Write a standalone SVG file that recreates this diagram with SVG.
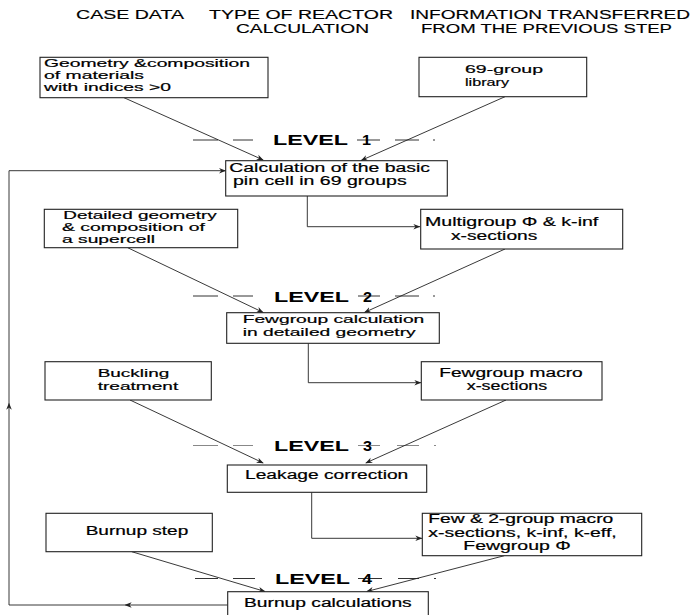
<svg xmlns="http://www.w3.org/2000/svg" width="691" height="615" viewBox="0 0 691 615">
<defs>
<style>
.box{fill:#fff;stroke:#222;stroke-width:1.1}
.t{font-family:"Liberation Sans",Arial,sans-serif;font-size:12px;fill:#000;stroke:#000;stroke-width:0.2}
.ts{font-family:"Liberation Sans",Arial,sans-serif;font-size:11.3px;fill:#000;stroke:#000;stroke-width:0.2}
.h{font-family:"Liberation Sans",Arial,sans-serif;font-size:12.5px;fill:#000;stroke:#000;stroke-width:0.15}
.lv{font-family:"Liberation Sans",Arial,sans-serif;font-size:14px;font-weight:bold;fill:#000}
.c{fill:none;stroke:#222;stroke-width:0.9}
.d{fill:none;stroke:#333;stroke-width:1}
.d3{fill:none;stroke:#888;stroke-width:1}
</style>
<marker id="ah" viewBox="0 0 10 10" refX="9.5" refY="5" markerWidth="7" markerHeight="7" markerUnits="userSpaceOnUse" orient="auto">
<path d="M0,1 L10,5 L0,9 L3,5 Z" fill="#222"/>
</marker>
</defs>
<rect width="691" height="615" fill="#fff"/>

<g id="headers">
<text class="h" x="76" y="19" textLength="108" lengthAdjust="spacingAndGlyphs">CASE DATA</text>
<text class="h" x="209" y="19" textLength="184" lengthAdjust="spacingAndGlyphs">TYPE OF REACTOR</text>
<text class="h" x="236" y="33" textLength="133" lengthAdjust="spacingAndGlyphs">CALCULATION</text>
<text class="h" x="410" y="19" textLength="280" lengthAdjust="spacingAndGlyphs">INFORMATION TRANSFERRED</text>
<text class="h" x="421" y="33" textLength="251" lengthAdjust="spacingAndGlyphs">FROM THE PREVIOUS STEP</text>
</g>

<g id="levels">
<g id="level1">
<path class="d" d="M193,140 H218 M233,140 H253 M357,140 H380 M395,140 H419 M433,140 H435"/>
<text class="lv" x="273" y="145" textLength="75" lengthAdjust="spacingAndGlyphs">LEVEL</text>
<text class="lv" x="362" y="145" textLength="9" lengthAdjust="spacingAndGlyphs">1</text>
</g>
<g id="level2">
<path class="d" d="M193,296 H218 M233,296 H253 M358,296 H380 M395,296 H419 M433,296 H435"/>
<text class="lv" x="274" y="301.5" textLength="75" lengthAdjust="spacingAndGlyphs">LEVEL</text>
<text class="lv" x="363" y="301.5" textLength="9" lengthAdjust="spacingAndGlyphs">2</text>
</g>
<g id="level3">
<path class="d3" d="M193,445.5 H218 M233,445.5 H253 M358,445.5 H380 M397,445.5 H419 M434,445.5 H436"/>
<text class="lv" x="274" y="451" textLength="75" lengthAdjust="spacingAndGlyphs">LEVEL</text>
<text class="lv" x="363" y="451" textLength="9" lengthAdjust="spacingAndGlyphs">3</text>
</g>
<g id="level4">
<path class="d" d="M195,578.5 H218 M233,578.5 H255 M358,578.5 H382 M398,578.5 H419 M434,578.5 H436"/>
<text class="lv" x="275" y="584" textLength="75" lengthAdjust="spacingAndGlyphs">LEVEL</text>
<text class="lv" x="362" y="584" textLength="10" lengthAdjust="spacingAndGlyphs">4</text>
</g>
</g>

<g id="connectors">
<path class="c" d="M124,97.7 L263.3,160" marker-end="url(#ah)"/>
<path class="c" d="M505,96.7 L361,160.5" marker-end="url(#ah)"/>
<path class="c" d="M307.3,196 V226.7 H420" marker-end="url(#ah)"/>
<path class="c" d="M127.7,247.7 L263.3,312.5" marker-end="url(#ah)"/>
<path class="c" d="M505,249 L364.3,312.5" marker-end="url(#ah)"/>
<path class="c" d="M308.3,343.3 V382.7 H421" marker-end="url(#ah)"/>
<path class="c" d="M130,400 L263.3,463" marker-end="url(#ah)"/>
<path class="c" d="M506,400 L365.7,463" marker-end="url(#ah)"/>
<path class="c" d="M311.7,492.3 V538.3 H422" marker-end="url(#ah)"/>
<path class="c" d="M131.7,551.7 L265,591.5" marker-end="url(#ah)"/>
<path class="c" d="M504.3,555.7 L366.7,591.5" marker-end="url(#ah)"/>
<path class="c" d="M227.7,605 H125" marker-end="url(#ah)"/>
<path class="c" d="M125,605 H9 V403" marker-end="url(#ah)"/>
<path class="c" d="M9,403 V170.7 H225.7" marker-end="url(#ah)"/>
</g>

<g id="n-geometry">
<rect class="box" x="40" y="57.3" width="228" height="40.4"/>
<text class="ts" x="44" y="67" textLength="206" lengthAdjust="spacingAndGlyphs">Geometry &amp;composition</text>
<text class="ts" x="44" y="79" textLength="100" lengthAdjust="spacingAndGlyphs">of materials</text>
<text class="ts" x="44" y="91" textLength="127" lengthAdjust="spacingAndGlyphs">with indices &gt;0</text>
</g>

<g id="n-library">
<rect class="box" x="419" y="57.3" width="167.7" height="39.4"/>
<text class="ts" x="465" y="73" textLength="78" lengthAdjust="spacingAndGlyphs">69-group</text>
<text class="ts" x="465" y="85.5" textLength="44" lengthAdjust="spacingAndGlyphs">library</text>
</g>

<g id="n-pincell">
<rect class="box" x="225.7" y="160.7" width="221.6" height="35.3"/>
<text class="t" x="229.3" y="171.5" textLength="200.7" lengthAdjust="spacingAndGlyphs">Calculation of the basic</text>
<text class="t" x="233" y="185" textLength="173.7" lengthAdjust="spacingAndGlyphs">pin cell in 69 groups</text>
</g>

<g id="n-supercell">
<rect class="box" x="44.3" y="209.3" width="193.4" height="38.4"/>
<text class="ts" x="63.3" y="219.3" textLength="153.4" lengthAdjust="spacingAndGlyphs">Detailed geometry</text>
<text class="ts" x="62" y="231.2" textLength="143" lengthAdjust="spacingAndGlyphs">&amp; composition of</text>
<text class="ts" x="62" y="243" textLength="93" lengthAdjust="spacingAndGlyphs">a supercell</text>
</g>

<g id="n-multigroup">
<rect class="box" x="420.7" y="209.3" width="202" height="39.7"/>
<text class="t" x="425" y="226" textLength="173.3" lengthAdjust="spacingAndGlyphs">Multigroup Φ &amp;  k-inf</text>
<text class="t" x="451" y="240" textLength="86.3" lengthAdjust="spacingAndGlyphs">x-sections</text>
</g>

<g id="n-fewgroupcalc">
<rect class="box" x="226.7" y="312.7" width="212.6" height="30.6"/>
<text class="ts" x="242.7" y="323" textLength="181.6" lengthAdjust="spacingAndGlyphs">Fewgroup calculation</text>
<text class="ts" x="242.7" y="335.5" textLength="173" lengthAdjust="spacingAndGlyphs">in detailed geometry</text>
</g>

<g id="n-buckling">
<rect class="box" x="45" y="361.7" width="166.3" height="38.3"/>
<text class="ts" x="97.7" y="377" textLength="71.6" lengthAdjust="spacingAndGlyphs">Buckling</text>
<text class="ts" x="97.7" y="389.5" textLength="80.6" lengthAdjust="spacingAndGlyphs">treatment</text>
</g>

<g id="n-fewmacro">
<rect class="box" x="421.3" y="361.7" width="180.7" height="38.3"/>
<text class="t" x="439.3" y="377.3" textLength="143.4" lengthAdjust="spacingAndGlyphs">Fewgroup macro</text>
<text class="t" x="466.7" y="390" textLength="80.6" lengthAdjust="spacingAndGlyphs">x-sections</text>
</g>

<g id="n-leakage">
<rect class="box" x="227.3" y="465" width="199.4" height="27.3"/>
<text class="t" x="245" y="479.3" textLength="163.3" lengthAdjust="spacingAndGlyphs">Leakage correction</text>
</g>

<g id="n-burnupstep">
<rect class="box" x="46" y="513.3" width="166.3" height="38.4"/>
<text class="t" x="85.7" y="535" textLength="102.6" lengthAdjust="spacingAndGlyphs">Burnup step</text>
</g>

<g id="n-fewtwo">
<rect class="box" x="422.3" y="513.3" width="219.4" height="42.4"/>
<text class="t" x="428.3" y="522.6" textLength="185" lengthAdjust="spacingAndGlyphs">Few &amp; 2-group macro</text>
<text class="t" x="428.3" y="536.7" textLength="188.4" lengthAdjust="spacingAndGlyphs">x-sections, k-inf, k-eff,</text>
<text class="t" x="463.3" y="550" textLength="107.4" lengthAdjust="spacingAndGlyphs">Fewgroup  Φ</text>
</g>

<g id="n-burnupcalc">
<rect class="box" x="227.7" y="591.7" width="200.6" height="30"/>
<text class="t" x="244" y="606.7" textLength="167.7" lengthAdjust="spacingAndGlyphs">Burnup calculations</text>
</g>
</svg>
